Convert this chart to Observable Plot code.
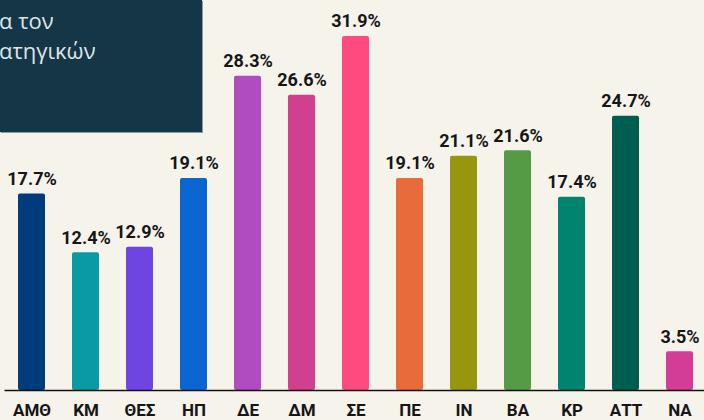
<!DOCTYPE html>
<html>
<head>
<meta charset="utf-8">
<script src="https://cdn.jsdelivr.net/npm/d3@7"></script>
<script src="https://cdn.jsdelivr.net/npm/@observablehq/plot@0.6"></script>
<style>
  html, body { margin: 0; padding: 0; background: #f5f3ea; }
  #wrap { position: relative; width: 704px; height: 420px; overflow: hidden; background: #f5f3ea; }
  #box {
    position: absolute; left: 0; top: 0; width: 202px; height: 132px;
    background: #143646; box-shadow: 1px 1px 0 #8a9aa0;
    overflow: hidden;
  }
  #box div {
    position: absolute; left: -1px; font-family: "Open Sans", sans-serif;
    font-size: 22px; color: #dfe5e6; white-space: nowrap;
  }
</style>
</head>
<body>
<div id="wrap">
  <div id="chart"></div>
  <div id="box"><div style="top:5px">α τον</div><div style="top:35px">ατηγικών</div></div>
</div>
<script>
const regions = ["ΑΜΘ","ΚΜ","ΘΕΣ","ΗΠ","ΔΕ","ΔΜ","ΣΕ","ΠΕ","ΙΝ","ΒΑ","ΚΡ","ΑΤΤ","ΝΑ"];
const values = [17.7, 12.4, 12.9, 19.1, 28.3, 26.6, 31.9, 19.1, 21.1, 21.6, 17.4, 24.7, 3.5];
const colors = ["#003c7c","#0a9aa6","#6f45e2","#0b66d2","#b04bc0","#d1408f","#ff4a80","#e86b3a","#97970f","#559b45","#00846f","#005e50","#d33d97"];

const data = regions.map((r, i) => ({region: r, value: values[i], color: colors[i]}));

const chart = Plot.plot({
  width: 704,
  height: 420,
  marginLeft: 4.5,
  marginRight: -2.5,
  marginTop: 1.5,
  marginBottom: 30,
  style: {background: "transparent", overflow: "visible"},
  x: {domain: regions, paddingInner: 0.5, paddingOuter: 0.25, align: 0.5},
  y: {domain: [0, 35], axis: null},
  marks: [
    Plot.barY(data, {x: "region", y: "value", fill: "color", rx: 2}),
    Plot.ruleY([0], {stroke: "#111", strokeWidth: 1.5}),
    Plot.text(data, {
      x: "region", y: "value", text: d => d.value.toFixed(1) + "%",
      dy: -9, lineAnchor: "bottom", fontSize: 18, fontWeight: "bold",
      fill: "#161616", fontFamily: "Roboto, sans-serif"
    }),
    Plot.axisX({
      tickSize: 0, tickPadding: 13, fontSize: 17, fontWeight: "bold",
      fill: "#161616", fontFamily: "Roboto, sans-serif", label: null
    })
  ]
});
document.getElementById("chart").appendChild(chart);
</script>
</body>
</html>
